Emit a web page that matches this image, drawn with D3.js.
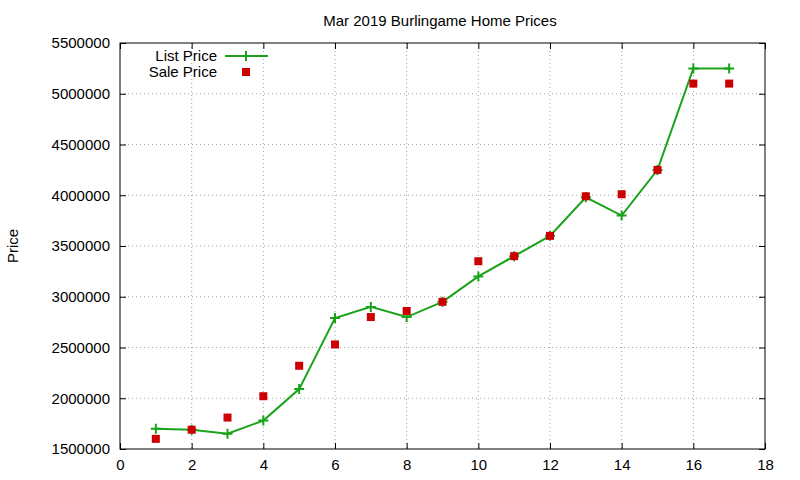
<!DOCTYPE html><html><head><script src="https://cdn.jsdelivr.net/npm/d3@7"></script>
<style>body{margin:0;background:#fff}text{font-family:"Liberation Sans",Arial,sans-serif;font-size:15px}</style></head><body>
<svg id="c" width="800" height="480"></svg>
<script>
const xs=[1,2,3,4,5,6,7,8,9,10,11,12,13,14,15,16,17];
const listPrice=[1700000,1690000,1650000,1780000,2090000,2790000,2900000,2800000,2950000,3200000,3400000,3600000,3980000,3800000,4250000,5250000,5250000];
const salePrice=[1600000,1690000,1810000,2020000,2320000,2530000,2800000,2860000,2950000,3350000,3400000,3600000,3990000,4010000,4250000,5100000,5100000];
const xTicks=[0,2,4,6,8,10,12,14,16,18];
const yTicks=[1500000,2000000,2500000,3000000,3500000,4000000,4500000,5000000,5500000];
const svg=d3.select("#c");
const L=120,R=765,T=43,B=449;
const x=d3.scaleLinear().domain([0,18]).range([L,R]);
const y=d3.scaleLinear().domain([1500000,5500000]).range([B,T]);
const g=svg.append("g");
xTicks.slice(1,-1).forEach(t=>g.append("line").attr("x1",x(t)).attr("x2",x(t)).attr("y1",T).attr("y2",B).attr("stroke","#a0a0a0").attr("stroke-dasharray","1,3"));
yTicks.slice(1,-1).forEach(t=>g.append("line").attr("y1",y(t)).attr("y2",y(t)).attr("x1",L).attr("x2",R).attr("stroke","#a0a0a0").attr("stroke-dasharray","1,3"));
const ax=(a,tr)=>svg.append("g").attr("transform",tr).call(a).call(s=>{s.select(".domain").remove();s.selectAll("line").attr("stroke","#000");s.selectAll("text").style("font-size","15px").attr("fill","#000")});
ax(d3.axisBottom(x).tickValues(xTicks).tickSize(-6).tickPadding(10),`translate(0,${B})`);
ax(d3.axisTop(x).tickValues(xTicks).tickSize(-6).tickFormat(""),`translate(0,${T})`);
ax(d3.axisLeft(y).tickValues(yTicks).tickSize(-6).tickPadding(10).tickFormat(d3.format("d")),`translate(${L},0)`);
ax(d3.axisRight(y).tickValues(yTicks).tickSize(-6).tickFormat(""),`translate(${R},0)`);
svg.append("rect").attr("x",L).attr("y",T).attr("width",R-L).attr("height",B-T).attr("fill","none").attr("stroke","#000");
svg.append("text").attr("x",440).attr("y",26).attr("text-anchor","middle").text("Mar 2019 Burlingame Home Prices");
svg.append("text").attr("transform","translate(18,246) rotate(-90)").attr("text-anchor","middle").text("Price");
const col="#1aa31a";
svg.append("path").datum(xs.map((d,i)=>[d,listPrice[i]])).attr("d",d3.line().x(d=>x(d[0])).y(d=>y(d[1]))).attr("fill","none").attr("stroke",col).attr("stroke-width",2);
const plus=(px,py)=>svg.append("path").attr("d",`M${px-5},${py}h10M${px},${py-5}v10`).attr("stroke",col).attr("stroke-width",2);
xs.forEach((d,i)=>plus(x(d),y(listPrice[i])));
svg.selectAll(".s").data(xs).join("rect").attr("x",(d)=>x(d)-4).attr("y",(d,i)=>y(salePrice[i])-4).attr("width",8).attr("height",8).attr("fill","#cc0000");
svg.append("text").attr("x",217).attr("y",61).attr("text-anchor","end").text("List Price");
svg.append("line").attr("x1",225).attr("x2",268).attr("y1",56).attr("y2",56).attr("stroke",col).attr("stroke-width",2);
plus(246,56);
svg.append("text").attr("x",217).attr("y",77).attr("text-anchor","end").text("Sale Price");
svg.append("rect").attr("x",242).attr("y",68).attr("width",8).attr("height",8).attr("fill","#cc0000");
</script></body></html>
